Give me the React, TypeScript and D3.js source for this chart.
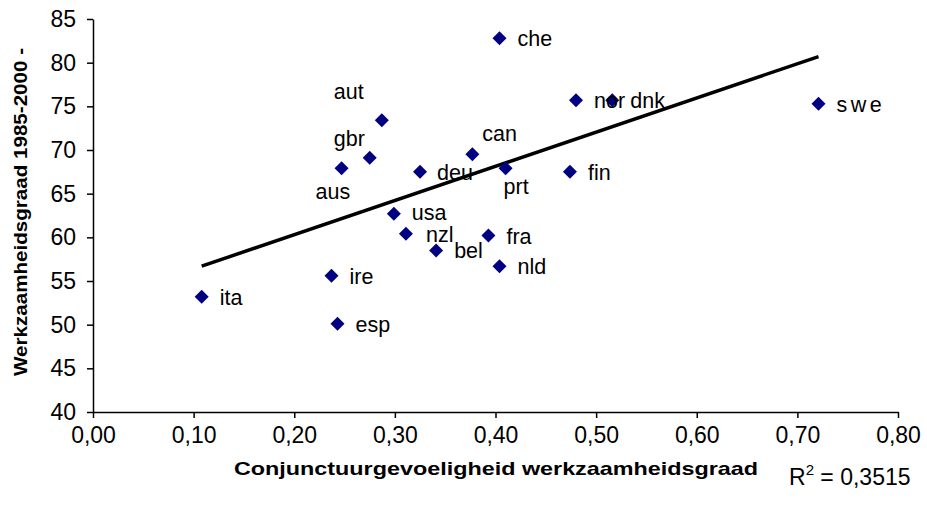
import React, { useRef, useEffect } from 'react';
import * as d3 from 'd3';

// country codes, cyclical sensitivity (x) and employment rate 1985-2000 (y)
const countries = ['ita', 'ire', 'esp', 'aus', 'gbr', 'aut', 'deu', 'usa', 'nzl', 'bel', 'can', 'che', 'prt', 'fra', 'nld', 'fin', 'nor', 'dnk', 'swe'];
const sensitivity = [0.108, 0.237, 0.243, 0.247, 0.275, 0.287, 0.325, 0.299, 0.311, 0.341, 0.377, 0.404, 0.410, 0.393, 0.404, 0.474, 0.480, 0.516, 0.721];
const employment = [53.2, 55.6, 50.1, 67.9, 69.1, 73.4, 67.5, 62.7, 60.4, 58.5, 69.5, 82.8, 67.9, 60.2, 56.7, 67.5, 75.7, 75.7, 75.3];

// linear trend line as drawn in the source (end points)
const trendX = [0.108, 0.721];
const trendY = [56.7, 80.7];

const xTicks = [0, 0.1, 0.2, 0.3, 0.4, 0.5, 0.6, 0.7, 0.8];
const yTicks = [40, 45, 50, 55, 60, 65, 70, 75, 80, 85];

const xTitle = 'Conjunctuurgevoeligheid werkzaamheidsgraad';
const yTitle = 'Werkzaamheidsgraad 1985-2000 -';
const r2Value = '0,3515';

// label placement relative to the marker (text start, baseline)
const labelOffset: Record<string, [number, number]> = {
  aut: [-48, -21],
  gbr: [-36, -12],
  aus: [-26, 31],
  can: [10, -13],
  prt: [-2, 26],
  deu: [17, 8],
  usa: [18, 6],
  nzl: [20, 8],
};

const W = 927;
const H = 514;

const App = () => {
  const svgRef = useRef<SVGSVGElement>(null);

  useEffect(() => {
    const svg = d3.select(svgRef.current);
    svg.selectAll('*').remove();

    const font = '"Liberation Sans", Arial, sans-serif';
    const x = d3.scaleLinear().domain([0, 0.8]).range([93, 898]);
    const y = d3.scaleLinear().domain([40, 85]).range([412, 19]);
    const fmt = (v: number) => v.toFixed(2).replace('.', ',');

    const xAxis = svg.append('g')
      .attr('transform', `translate(0,${y(40)})`)
      .call(d3.axisBottom(x).tickValues(xTicks).tickFormat(d => fmt(+d)).tickSizeInner(6).tickSizeOuter(0).tickPadding(9));
    const yAxis = svg.append('g')
      .attr('transform', `translate(${x(0)},0)`)
      .call(d3.axisLeft(y).tickValues(yTicks).tickFormat(d => String(d)).tickSizeInner(6).tickSizeOuter(0).tickPadding(11));

    [xAxis, yAxis].forEach(g => {
      g.select('.domain').attr('stroke', '#000').attr('stroke-width', 1.5);
      g.selectAll('.tick line').attr('stroke', '#000').attr('stroke-width', 1.5);
      g.selectAll('.tick text').attr('fill', '#000').style('font-family', font).style('font-size', '23px');
    });

    svg.append('line')
      .attr('x1', x(trendX[0])).attr('y1', y(trendY[0]))
      .attr('x2', x(trendX[1])).attr('y2', y(trendY[1]))
      .attr('stroke', '#000').attr('stroke-width', 3.5);

    const pts = countries.map((c, i) => ({ c, x: sensitivity[i], y: employment[i] }));

    svg.selectAll('.pt')
      .data(pts)
      .enter().append('path')
      .attr('class', 'pt')
      .attr('d', 'M0,-7L7,0L0,7L-7,0Z')
      .attr('transform', d => `translate(${x(d.x)},${y(d.y)})`)
      .attr('fill', '#000080');

    svg.selectAll('.lbl')
      .data(pts)
      .enter().append('text')
      .attr('class', 'lbl')
      .attr('x', d => x(d.x) + (labelOffset[d.c] ? labelOffset[d.c][0] : 18))
      .attr('y', d => y(d.y) + (labelOffset[d.c] ? labelOffset[d.c][1] : 8))
      .style('font-family', font)
      .style('font-size', '21.5px')
      .style('letter-spacing', d => (d.c === 'swe' ? '3.5px' : '0px'))
      .attr('fill', '#000')
      .text(d => d.c);

    svg.append('text')
      .attr('transform', 'translate(496,475) scale(1.27,1)')
      .attr('text-anchor', 'middle')
      .style('font-family', font).style('font-size', '18.4px').style('font-weight', 'bold')
      .text(xTitle);

    svg.append('text')
      .attr('transform', 'translate(27,212) rotate(-90) scale(1.12,1)')
      .attr('text-anchor', 'middle')
      .style('font-family', font).style('font-size', '18.4px').style('font-weight', 'bold')
      .text(yTitle);

    const r2 = svg.append('text')
      .attr('x', 789).attr('y', 485)
      .style('font-family', font).style('font-size', '23px');
    r2.append('tspan').text('R');
    r2.append('tspan').attr('dy', -10).style('font-size', '15px').text('2');
    r2.append('tspan').attr('dy', 10).text(` = ${r2Value}`);
  }, []);

  return (
    <svg ref={svgRef} width={W} height={H} style={{ position: 'absolute', left: 0, top: 0, background: '#fff' }} />
  );
};

export default App;
